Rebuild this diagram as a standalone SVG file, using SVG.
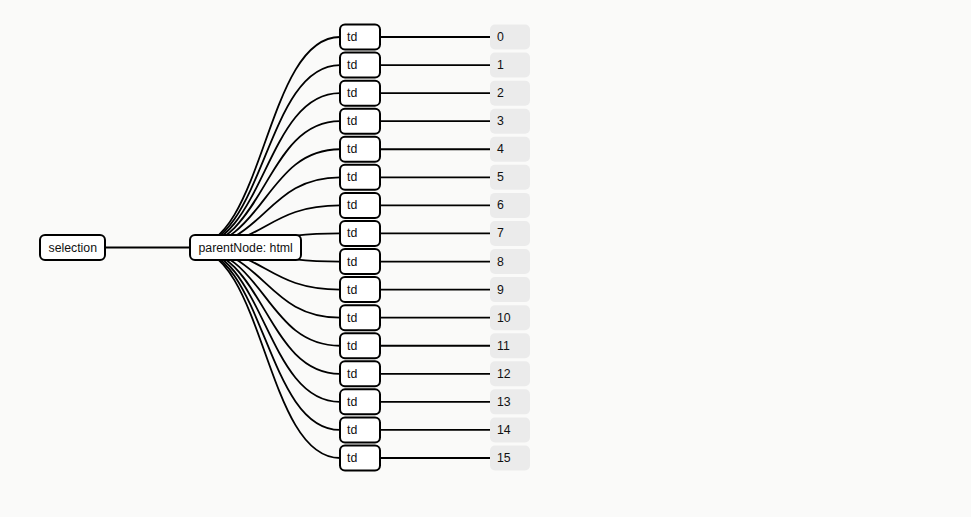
<svg xmlns="http://www.w3.org/2000/svg" width="971" height="517" viewBox="0 0 971 517">
<style>
.bg{fill:#fafaf9}
.link{fill:none;stroke:#000;stroke-width:1.8}
.box{fill:#fff;stroke:#000;stroke-width:2}
.num{fill:#ebebeb}
text{font-family:"Liberation Sans",Arial,sans-serif;font-size:12.3px;fill:#111}
</style>
<rect class="bg" width="971" height="517"/>
<g id="links">
<path class="link" d="M40,247.5H190"/>
<path class="link" d="M190,247.5C265,247.5 265,37 340,37"/>
<path class="link" d="M190,247.5C265,247.5 265,65.07 340,65.07"/>
<path class="link" d="M190,247.5C265,247.5 265,93.13 340,93.13"/>
<path class="link" d="M190,247.5C265,247.5 265,121.2 340,121.2"/>
<path class="link" d="M190,247.5C265,247.5 265,149.27 340,149.27"/>
<path class="link" d="M190,247.5C265,247.5 265,177.33 340,177.33"/>
<path class="link" d="M190,247.5C265,247.5 265,205.4 340,205.4"/>
<path class="link" d="M190,247.5C265,247.5 265,233.47 340,233.47"/>
<path class="link" d="M190,247.5C265,247.5 265,261.53 340,261.53"/>
<path class="link" d="M190,247.5C265,247.5 265,289.6 340,289.6"/>
<path class="link" d="M190,247.5C265,247.5 265,317.67 340,317.67"/>
<path class="link" d="M190,247.5C265,247.5 265,345.73 340,345.73"/>
<path class="link" d="M190,247.5C265,247.5 265,373.8 340,373.8"/>
<path class="link" d="M190,247.5C265,247.5 265,401.87 340,401.87"/>
<path class="link" d="M190,247.5C265,247.5 265,429.93 340,429.93"/>
<path class="link" d="M190,247.5C265,247.5 265,458 340,458"/>
<path class="link" d="M340,37H490M340,65.07H490M340,93.13H490M340,121.2H490M340,149.27H490M340,177.33H490M340,205.4H490M340,233.47H490M340,261.53H490M340,289.6H490M340,317.67H490M340,345.73H490M340,373.8H490M340,401.87H490M340,429.93H490M340,458H490"/>
</g>
<g id="selection"><rect class="box" x="40" y="235" width="65" height="25" rx="5"/><text x="48.5" y="251.8">selection</text></g>
<g id="parentNode"><rect class="box" x="190" y="235" width="111" height="25" rx="5"/><text x="198.5" y="251.8">parentNode: html</text></g>
<g id="td0"><rect class="box" x="340" y="24.5" width="40" height="25" rx="5"/><text x="347" y="41">td</text></g>
<g id="td1"><rect class="box" x="340" y="52.57" width="40" height="25" rx="5"/><text x="347" y="69.07">td</text></g>
<g id="td2"><rect class="box" x="340" y="80.63" width="40" height="25" rx="5"/><text x="347" y="97.13">td</text></g>
<g id="td3"><rect class="box" x="340" y="108.7" width="40" height="25" rx="5"/><text x="347" y="125.2">td</text></g>
<g id="td4"><rect class="box" x="340" y="136.77" width="40" height="25" rx="5"/><text x="347" y="153.27">td</text></g>
<g id="td5"><rect class="box" x="340" y="164.83" width="40" height="25" rx="5"/><text x="347" y="181.33">td</text></g>
<g id="td6"><rect class="box" x="340" y="192.9" width="40" height="25" rx="5"/><text x="347" y="209.4">td</text></g>
<g id="td7"><rect class="box" x="340" y="220.97" width="40" height="25" rx="5"/><text x="347" y="237.47">td</text></g>
<g id="td8"><rect class="box" x="340" y="249.03" width="40" height="25" rx="5"/><text x="347" y="265.53">td</text></g>
<g id="td9"><rect class="box" x="340" y="277.1" width="40" height="25" rx="5"/><text x="347" y="293.6">td</text></g>
<g id="td10"><rect class="box" x="340" y="305.17" width="40" height="25" rx="5"/><text x="347" y="321.67">td</text></g>
<g id="td11"><rect class="box" x="340" y="333.23" width="40" height="25" rx="5"/><text x="347" y="349.73">td</text></g>
<g id="td12"><rect class="box" x="340" y="361.3" width="40" height="25" rx="5"/><text x="347" y="377.8">td</text></g>
<g id="td13"><rect class="box" x="340" y="389.37" width="40" height="25" rx="5"/><text x="347" y="405.87">td</text></g>
<g id="td14"><rect class="box" x="340" y="417.43" width="40" height="25" rx="5"/><text x="347" y="433.93">td</text></g>
<g id="td15"><rect class="box" x="340" y="445.5" width="40" height="25" rx="5"/><text x="347" y="462">td</text></g>
<g id="n0"><rect class="num" x="490" y="24.5" width="40" height="25" rx="5"/><text x="497" y="41">0</text></g>
<g id="n1"><rect class="num" x="490" y="52.57" width="40" height="25" rx="5"/><text x="497" y="69.07">1</text></g>
<g id="n2"><rect class="num" x="490" y="80.63" width="40" height="25" rx="5"/><text x="497" y="97.13">2</text></g>
<g id="n3"><rect class="num" x="490" y="108.7" width="40" height="25" rx="5"/><text x="497" y="125.2">3</text></g>
<g id="n4"><rect class="num" x="490" y="136.77" width="40" height="25" rx="5"/><text x="497" y="153.27">4</text></g>
<g id="n5"><rect class="num" x="490" y="164.83" width="40" height="25" rx="5"/><text x="497" y="181.33">5</text></g>
<g id="n6"><rect class="num" x="490" y="192.9" width="40" height="25" rx="5"/><text x="497" y="209.4">6</text></g>
<g id="n7"><rect class="num" x="490" y="220.97" width="40" height="25" rx="5"/><text x="497" y="237.47">7</text></g>
<g id="n8"><rect class="num" x="490" y="249.03" width="40" height="25" rx="5"/><text x="497" y="265.53">8</text></g>
<g id="n9"><rect class="num" x="490" y="277.1" width="40" height="25" rx="5"/><text x="497" y="293.6">9</text></g>
<g id="n10"><rect class="num" x="490" y="305.17" width="40" height="25" rx="5"/><text x="497" y="321.67">10</text></g>
<g id="n11"><rect class="num" x="490" y="333.23" width="40" height="25" rx="5"/><text x="497" y="349.73">11</text></g>
<g id="n12"><rect class="num" x="490" y="361.3" width="40" height="25" rx="5"/><text x="497" y="377.8">12</text></g>
<g id="n13"><rect class="num" x="490" y="389.37" width="40" height="25" rx="5"/><text x="497" y="405.87">13</text></g>
<g id="n14"><rect class="num" x="490" y="417.43" width="40" height="25" rx="5"/><text x="497" y="433.93">14</text></g>
<g id="n15"><rect class="num" x="490" y="445.5" width="40" height="25" rx="5"/><text x="497" y="462">15</text></g>
</svg>
